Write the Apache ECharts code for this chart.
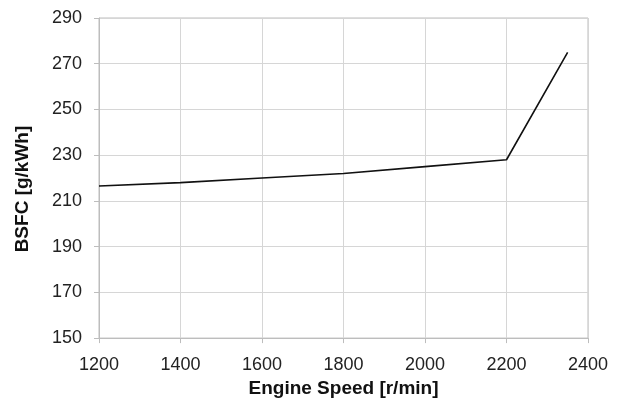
<!DOCTYPE html>
<html>
<head>
<meta charset="utf-8">
<script src="https://cdn.jsdelivr.net/npm/echarts@6/dist/echarts.min.js"></script>
<style>
  html, body { margin: 0; padding: 0; background: #fff; }
  #bsfc-chart { width: 623px; height: 403px; }
</style>
</head>
<body>
<div id="bsfc-chart"></div>
<script>
// engine speed [r/min] vs BSFC [g/kWh]
const engineSpeed = [1200, 1400, 1600, 1800, 2000, 2200, 2350];
const bsfc = [216.5, 218, 220, 222, 225, 228, 275];

const myChart = echarts.init(document.getElementById('bsfc-chart'), null, { renderer: 'canvas' });

const gridColor = '#d6d6d6';
const labelFont = { fontFamily: 'Liberation Sans', fontSize: 18, color: '#222' };
const titleFont = { fontFamily: 'Liberation Sans', fontSize: 19, fontWeight: 'bold', color: '#111' };

const option = {
  animation: false,
  grid: { left: 99, right: 35, top: 18, bottom: 61, show: true, borderColor: '#bdbdbd', borderWidth: 1 },
  xAxis: {
    type: 'value',
    min: 1200,
    max: 2400,
    interval: 200,
    name: 'Engine Speed [r/min]',
    nameLocation: 'middle',
    nameGap: 37,
    nameTextStyle: titleFont,
    axisLine: { show: true, lineStyle: { color: '#bdbdbd' } },
    axisTick: { show: true, length: 5, lineStyle: { color: '#bdbdbd' } },
    axisLabel: Object.assign({ margin: 18, formatter: (v) => String(v) }, labelFont),
    splitLine: { show: true, lineStyle: { color: gridColor } }
  },
  yAxis: {
    type: 'value',
    min: 150,
    max: 290,
    interval: 20,
    name: 'BSFC [g/kWh]',
    nameLocation: 'middle',
    nameGap: 67,
    nameRotate: 90,
    nameTextStyle: Object.assign({ padding: [0, 22, 0, 0] }, titleFont),
    axisLine: { show: true, lineStyle: { color: '#bdbdbd' } },
    axisTick: { show: true, length: 5, lineStyle: { color: '#bdbdbd' } },
    axisLabel: Object.assign({ margin: 17 }, labelFont),
    splitLine: { show: true, lineStyle: { color: gridColor } }
  },
  series: [
    {
      type: 'line',
      data: engineSpeed.map((s, i) => [s, bsfc[i]]),
      symbol: 'none',
      lineStyle: { color: '#111', width: 1.6 }
    }
  ]
};

myChart.setOption(option);
</script>
</body>
</html>
